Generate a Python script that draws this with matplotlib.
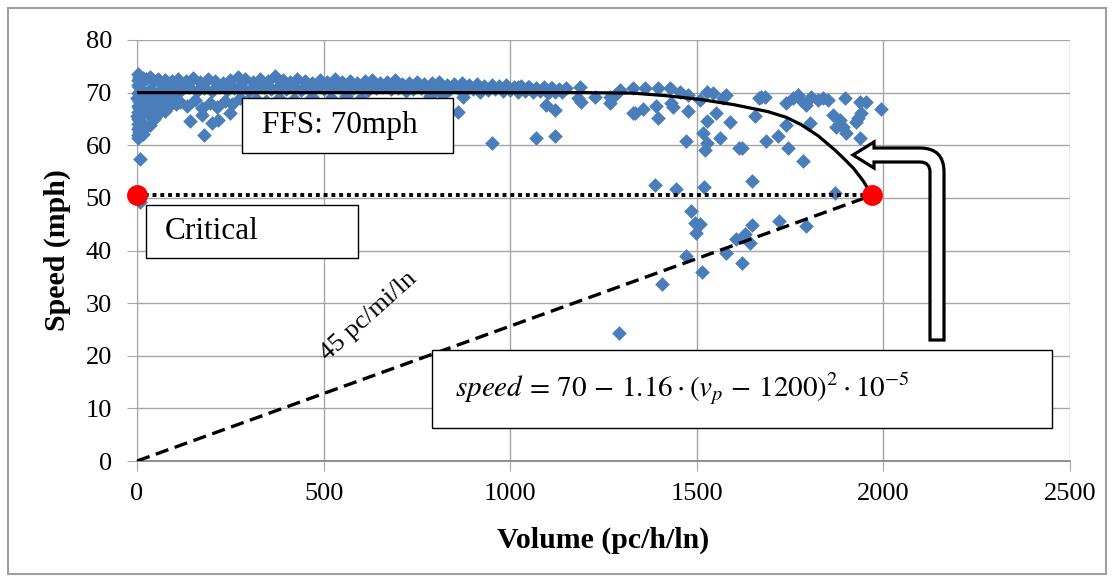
"""
Speed-flow scatter with FFS / critical point annotations.
"""

import matplotlib
matplotlib.use('Agg')
import matplotlib.pyplot as plt
from matplotlib.patches import Rectangle, PathPatch
from matplotlib.path import Path
from matplotlib.transforms import Affine2D

W, H = 1114, 582

# --- data ---
# points hugging the speed axis (volume ~ 0)
near0_vol = [2, 5, 3, 8, 2, 6, 10, 3, 7, 1, 5, 9, 2, 6, 3, 8, 1, 4, 7, 2, 5, 3, 6, 2, 4, 8, 8,
             15, 15, 15, 15, 15, 25, 25, 25, 25, 35, 35, 35, 35, 35, 45, 45, 45, 45,
             55, 55, 55, 55, 65, 65, 65, 75, 75, 75, 75, 85, 85, 85, 95, 95, 95, 105, 105, 105]
near0_spd = [73.6, 73.0, 72.4, 72.0, 71.5, 71.0, 70.5, 70.0, 69.5, 69.0, 68.4, 68.0, 67.5, 67.0,
             66.4, 66.0, 65.5, 65.0, 64.5, 64.0, 63.5, 63.0, 62.5, 62.0, 61.4, 57.4, 49.3,
             72.8, 70.0, 67.0, 64.0, 62.2, 72.5, 69.5, 66.5, 63.5, 73.0, 70.5, 68.0, 65.5, 63.8,
             72.2, 69.8, 67.5, 65.0, 72.6, 70.2, 68.2, 66.0, 72.0, 69.5, 67.2, 72.4, 70.8, 68.5,
             66.5, 71.8, 69.2, 67.5, 72.3, 70.5, 68.3, 72.0, 69.8, 67.8]

# uncongested band, upper edge
band_top_vol = [110, 130, 150, 170, 190, 210, 230, 250, 270, 290, 310, 330, 350, 370, 390, 410,
                430, 450, 470, 490, 510, 530, 550, 570, 590, 610, 630, 650, 670, 690, 710, 730,
                750, 770, 790, 810, 830, 850, 870, 890, 910, 930, 950, 970, 990, 1010, 1030,
                1050, 1070, 1090, 1110, 1130, 1150]
band_top_spd = [72.6, 72.2, 72.8, 72.0, 72.5, 72.3, 71.8, 72.4, 72.9, 72.6, 72.1, 72.5, 72.2,
                73.1, 72.4, 72.0, 72.6, 72.3, 71.9, 72.4, 72.1, 72.5, 72.0, 72.3, 71.8, 72.2,
                72.4, 71.9, 72.1, 72.4, 71.7, 71.9, 72.1, 71.6, 71.8, 72.0, 71.5, 71.7, 71.9,
                71.4, 71.6, 71.3, 71.5, 71.2, 71.4, 71.0, 71.3, 71.1, 70.8, 71.0, 70.8, 70.6, 70.9]

# uncongested band, lower part
band_low_vol = [120, 140, 160, 180, 200, 220, 240, 260, 280, 300, 320, 340, 360, 380, 400, 420,
                440, 460, 480, 500, 520, 540, 560, 580, 600, 620, 640, 660, 680, 700, 720, 740,
                760, 780, 800, 820, 840, 860, 880, 900, 920, 940, 960, 980, 1000, 1020, 1040,
                1060, 1080, 1100, 1120, 1140]
band_low_spd = [70.6, 71.0, 70.4, 70.9, 70.3, 71.1, 70.5, 70.8, 71.2, 70.4, 70.9, 71.0, 70.6,
                71.3, 70.7, 71.1, 70.5, 70.9, 71.2, 70.6, 70.8, 71.0, 70.4, 70.9, 71.1, 70.5,
                70.8, 71.0, 70.6, 70.9, 70.4, 70.7, 70.9, 70.5, 70.8, 70.3, 70.6, 70.8, 70.4,
                70.7, 70.2, 70.5, 70.6, 70.3, 70.5, 70.2, 70.4, 70.1, 70.3, 70.0, 70.2, 70.1]

# below the band, x < 1200
below_vol = [115, 135, 155, 175, 195, 215, 235, 255, 275, 295, 320, 345, 380, 420, 470, 520,
             560, 600, 142, 179, 200, 218, 249, 173, 860, 874, 950, 1097, 1119, 1070, 1119,
             1111, 1048, 1021, 785, 820]
below_spd = [68.2, 67.5, 68.6, 67.0, 68.0, 67.3, 68.4, 67.8, 68.9, 68.2, 68.8, 68.5, 69.0, 68.7,
             69.2, 68.9, 69.3, 69.0, 64.6, 61.9, 64.2, 64.8, 66.1, 65.7, 66.4, 69.2, 60.4, 67.6,
             66.7, 61.4, 61.8, 70.8, 71.1, 71.0, 69.4, 69.6]

# near-capacity and congested points
high_vol = [1186, 1182, 1191, 1227, 1267, 1280, 1294, 1267, 1329, 1360, 1396, 1427, 1454, 1476,
            1329, 1356, 1392, 1396, 1436, 1432, 1476, 1508, 1526, 1543, 1570, 1579, 1552, 1526,
            1590, 1655, 1517, 1526, 1523, 1563, 1470, 1612, 1620, 1389, 1443, 1518, 1648, 1484,
            1495, 1508, 1497, 1470, 1408, 1515, 1577, 1606, 1628, 1643, 1621, 1648, 1720, 1292,
            1793, 1869, 1668, 1682, 1740, 1758, 1771, 1780, 1793, 1807, 1825, 1838, 1851, 1896,
            1936, 1954, 1994, 1865, 1883, 1874, 1892, 1932, 1927, 1901, 1936, 1802, 1718, 1686,
            1744, 1785, 1740, 1941, 1672, 1334]
high_spd = [71.1, 68.9, 68.3, 69.2, 69.2, 69.5, 70.5, 68.0, 70.8, 70.8, 70.8, 70.8, 70.2, 69.5,
            66.2, 66.8, 67.5, 65.1, 67.3, 68.0, 66.6, 68.6, 70.2, 69.9, 68.9, 69.5, 66.2, 64.7,
            64.5, 65.6, 62.3, 60.5, 59.1, 61.4, 60.8, 59.4, 59.4, 52.4, 51.6, 52.0, 53.2, 47.6,
            45.2, 45.0, 43.4, 39.0, 33.6, 35.9, 39.5, 42.1, 43.1, 41.4, 37.6, 44.8, 45.7, 24.3,
            44.7, 51.0, 68.9, 69.2, 68.0, 68.9, 69.5, 68.6, 67.6, 69.2, 68.6, 68.9, 68.6, 68.9,
            68.3, 68.3, 66.8, 65.7, 64.8, 63.5, 63.5, 65.1, 64.5, 62.3, 61.3, 64.3, 61.8, 60.8,
            59.5, 57.0, 63.9, 66.1, 69.2, 66.1]

# speed-flow model as drawn
model_vol = [0, 1200, 1330, 1420, 1510, 1600, 1690, 1740, 1780, 1825, 1870, 1895, 1920,
             1945, 1970]
model_spd = [70, 70, 69.9, 69.4, 68.7, 67.7, 66.4, 65.3, 63.9, 61.8, 59.1, 57.4, 55.6,
             53.3, 50.5]

crit_vol = 1970
crit_spd = 50.5

BLUE = '#4a7ebb'
GRID = '#a6a6a6'

plt.rcParams['font.family'] = ['Liberation Serif', 'DejaVu Serif']
plt.rcParams['mathtext.fontset'] = 'stix'

fig = plt.figure(figsize=(W / 100, H / 100), dpi=100)
ax = fig.add_axes([137 / W, 1 - 461 / H, (1070 - 137) / W, (461 - 40) / H])

ax.scatter(near0_vol + band_top_vol + band_low_vol + below_vol + high_vol,
           near0_spd + band_top_spd + band_low_spd + below_spd + high_spd,
           marker='D', s=56, c=BLUE, linewidths=0, zorder=3, clip_on=False)

ax.plot(model_vol, model_spd, color='black', lw=2.3, zorder=4)
ax.plot([0, crit_vol], [crit_spd, crit_spd], color='black', lw=2.8,
        linestyle=(0, (1, 1)), zorder=4)
ax.plot([0, crit_vol], [0, crit_spd], color='black', lw=2.4,
        linestyle=(0, (4, 2)), zorder=4)
ax.plot([0, crit_vol], [crit_spd, crit_spd], 'o', color='red', markersize=14,
        zorder=5, clip_on=False)

ax.set_xlim(0, 2500)
ax.set_ylim(0, 80)
ax.set_xticks(range(0, 2501, 500))
ax.set_yticks(range(0, 81, 10))
ax.grid(True, color=GRID, lw=1)
ax.set_axisbelow(True)
for side in ['top', 'right']:
    ax.spines[side].set_visible(False)
ax.spines['left'].set_color(GRID)
ax.spines['bottom'].set_color('#868686')
ax.spines['bottom'].set_linewidth(1.3)
ax.tick_params(axis='y', length=7, color=GRID, labelsize=19, pad=11)
ax.tick_params(axis='x', length=7, color=GRID, labelsize=19, pad=9)

ax.set_xlabel('Volume (pc/h/ln)', fontsize=21.5, fontweight='bold')
ax.set_ylabel('Speed (mph)', fontsize=21.5, fontweight='bold')
ax.xaxis.set_label_coords(0.5, -0.157)
ax.yaxis.set_label_coords(-0.071, 0.5)

ax.text(620, 27.5, '45 pc/mi/ln', fontsize=19, rotation=42,
        ha='center', va='center', zorder=6)

# annotation shapes, placed in pixel space (y down)
px = Affine2D().scale(1, -1).translate(0, H)

eq = r'$speed\,=\,70\,-\,1.16\cdot(v_p\,-\,1200)^2\cdot 10^{-5}$'
boxes = [((242, 98, 211, 55), 'FFS: 70mph', 262, 22.5),
         ((146, 205, 212, 53), 'Critical', 165, 22.5),
         ((432, 350, 620, 78), eq, 455, 21)]
for (x0, y0, w, h), label, tx, fs in boxes:
    fig.patches.append(Rectangle((x0, y0), w, h, transform=px, facecolor='white',
                                 edgecolor='black', lw=1, zorder=7))
    fig.text(tx, y0 + h / 2, label, transform=px, fontsize=fs, ha='left',
             va='center', zorder=8)

verts = [(944, 340), (944, 172), (944, 148), (920, 148), (874, 148), (874, 142),
         (853, 155), (874, 168), (874, 162), (920, 162), (930, 162), (930, 172),
         (930, 340), (944, 340)]
codes = [Path.MOVETO, Path.LINETO, Path.CURVE3, Path.CURVE3, Path.LINETO, Path.LINETO,
         Path.LINETO, Path.LINETO, Path.LINETO, Path.LINETO, Path.CURVE3, Path.CURVE3,
         Path.LINETO, Path.CLOSEPOLY]
fig.patches.append(PathPatch(Path(verts, codes), transform=px, facecolor='white',
                             edgecolor='black', lw=2.3, zorder=7))

# outer chart border
fig.patches.append(Rectangle((8, 8), W - 16, H - 16, transform=px, fill=False,
                             edgecolor='#a0a0a0', lw=1.5, zorder=1))

fig.savefig('out.png', dpi=100)
plt.close(fig)
